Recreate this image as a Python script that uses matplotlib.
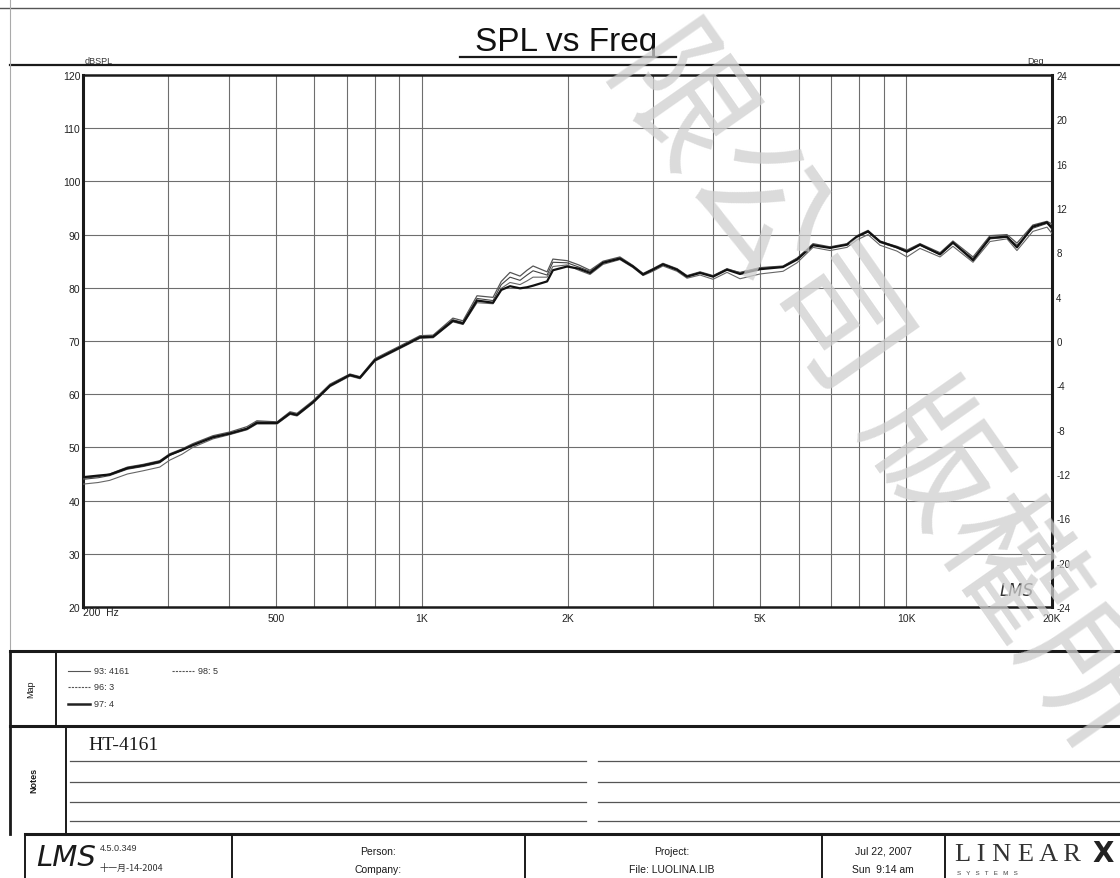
import matplotlib
matplotlib.use("Agg")
import matplotlib.pyplot as plt
from matplotlib.lines import Line2D

plt.rcParams['font.family'] = ['Liberation Sans', 'Noto Sans CJK TC', 'DejaVu Sans']

# ---------------- data ----------------
FREQ = [200, 215, 227, 247, 266, 288, 302, 320, 337, 371, 402, 436, 457, 503, 535, 553, 597, 647,
        711, 746, 801, 881, 940, 992, 1056, 1160, 1217, 1301, 1404, 1460, 1522, 1596, 1650, 1698,
        1815, 1866, 1996, 2110, 2226, 2368, 2566, 2730, 2864, 3000, 3148, 3366, 3530, 3755, 3994,
        4268, 4540, 4994, 5570, 5954, 6424, 6964, 7550, 7916, 8344, 8832, 9572, 10038, 10680,
        11748, 12490, 13740, 14894, 16148, 16930, 18260, 19530, 20000]

SPL_93 = [44.2, 44.5, 45.0, 46.3, 46.8, 47.5, 48.8, 49.7, 50.7, 52.2, 52.9, 53.9, 55.0, 54.8, 56.7,
          56.4, 58.8, 61.9, 63.8, 63.3, 66.7, 68.6, 69.9, 71.0, 71.1, 74.3, 73.8, 78.5, 78.2, 81.2,
          82.9, 82.2, 83.3, 84.1, 83.0, 85.4, 85.1, 84.3, 83.3, 85.0, 85.8, 84.2, 82.7, 83.6, 84.6,
          83.6, 82.3, 83.0, 82.3, 83.6, 82.8, 83.7, 84.0, 85.5, 88.3, 87.7, 88.3, 89.8, 90.8, 88.7,
          87.8, 87.1, 88.3, 86.6, 88.8, 85.8, 89.8, 90.0, 88.4, 91.8, 92.5, 92.0]

SPL_96 = [43.1, 43.4, 43.8, 45.0, 45.6, 46.3, 47.6, 48.7, 50.0, 51.6, 52.4, 53.3, 54.4, 54.4, 56.2,
          55.9, 58.3, 61.4, 63.4, 62.9, 66.2, 68.1, 69.4, 70.5, 70.6, 73.6, 73.1, 77.2, 77.0, 79.9,
          81.0, 80.6, 81.3, 82.0, 82.0, 84.0, 84.3, 83.3, 82.5, 84.4, 85.3, 83.8, 82.3, 83.1, 84.1,
          83.1, 81.8, 82.4, 81.6, 82.9, 81.7, 82.6, 83.1, 84.7, 87.6, 87.0, 87.6, 89.0, 90.0, 88.0,
          86.9, 85.8, 87.4, 85.8, 87.8, 84.8, 88.7, 89.2, 87.0, 90.6, 91.4, 90.2]

SPL_97 = [44.4, 44.7, 44.9, 46.1, 46.6, 47.3, 48.6, 49.5, 50.4, 51.9, 52.6, 53.5, 54.6, 54.6, 56.4,
          56.1, 58.5, 61.6, 63.6, 63.1, 66.4, 68.3, 69.6, 70.7, 70.8, 73.8, 73.3, 77.6, 77.2, 79.6,
          80.3, 79.9, 80.1, 80.4, 81.2, 83.3, 84.0, 83.6, 82.8, 84.7, 85.5, 84.0, 82.5, 83.4, 84.4,
          83.4, 82.1, 82.8, 82.1, 83.4, 82.6, 83.5, 83.9, 85.3, 88.0, 87.5, 88.1, 89.6, 90.6, 88.7,
          87.6, 86.8, 88.1, 86.3, 88.5, 85.2, 89.4, 89.6, 87.6, 91.5, 92.3, 91.3]

SPL_98 = [44.0, 44.3, 44.7, 45.9, 46.4, 47.1, 48.5, 49.4, 50.5, 52.0, 52.7, 53.6, 54.8, 54.7, 56.5,
          56.2, 58.6, 61.7, 63.7, 63.2, 66.5, 68.4, 69.7, 70.8, 70.9, 74.0, 73.5, 78.0, 77.6, 80.6,
          82.0, 81.4, 82.4, 83.2, 82.4, 84.8, 84.7, 83.9, 83.1, 84.8, 85.6, 84.1, 82.6, 83.5, 84.5,
          83.5, 82.2, 82.9, 82.2, 83.5, 82.9, 83.8, 84.1, 85.6, 88.1, 87.6, 88.2, 89.6, 90.5, 88.5,
          87.5, 86.7, 88.0, 86.2, 88.4, 85.5, 89.2, 89.5, 88.0, 91.2, 92.1, 91.0]

SERIES_NAMES = ["93: 4161", "96: 3", "97: 4", "98: 5"]

X_GRID = [300, 400, 500, 600, 700, 800, 900, 1000, 2000, 3000, 4000, 5000, 6000, 7000, 8000, 9000, 10000]
X_LABEL_POS = [500, 1000, 2000, 5000, 10000, 20000]
X_LABELS = ["500", "1K", "2K", "5K", "10K", "20K"]
Y_TICKS = [20, 30, 40, 50, 60, 70, 80, 90, 100, 110, 120]
DEG_TICKS = [-24, -20, -16, -12, -8, -4, 0, 4, 8, 12, 16, 20, 24]

# ---------------- figure ----------------
W, H = 1120, 879
fig = plt.figure(figsize=(W / 100, H / 100), dpi=100)
fig.patch.set_facecolor('white')

bg = fig.add_axes([0, 0, 1, 1], zorder=0)
bg.set_xlim(0, W)
bg.set_ylim(H, 0)
bg.axis('off')

ink = '#1a1a1a'

def hline(y, x0, x1, lw=1.2, c=ink, alpha=1.0):
    bg.add_line(Line2D([x0, x1], [y, y], lw=lw, color=c, alpha=alpha))

def vline(x, y0, y1, lw=1.2, c=ink, alpha=1.0):
    bg.add_line(Line2D([x, x], [y0, y1], lw=lw, color=c, alpha=alpha))

# header
hline(9, 0, W, lw=1.0, c='#555555')
hline(66, 10, W, lw=1.6)
vline(10, 0, 835, lw=0.8, c='#aaaaaa')
bg.text(566, 43, "SPL vs Freq", fontsize=24, ha='center', va='center', color='#111111')
hline(58, 460, 676, lw=1.6)

# map box
hline(652, 10, W, lw=2.2)
vline(10, 652, 835, lw=2.0)
vline(56, 652, 727, lw=1.4)
bg.text(31, 689, "Map", rotation=90, fontsize=6.5, ha='center', va='center', color=ink)
leg_styles = [dict(lw=0.8, ls='-', color='#555555'),
              dict(lw=0.8, ls=(0, (2, 1)), color='#555555'),
              dict(lw=1.8, ls='-', color='#222222'),
              dict(lw=0.8, ls=(0, (2, 1)), color='#555555')]
leg_pos = [(68, 672), (68, 688), (68, 705), (172, 672)]
for name, st, (lx, ly) in zip(SERIES_NAMES, leg_styles, leg_pos):
    bg.add_line(Line2D([lx, lx + 22], [ly, ly], **st))
    bg.text(lx + 26, ly, name, fontsize=6.5, ha='left', va='center', color='#333333')

# notes box
hline(727, 10, W, lw=2.2)
vline(66, 727, 835, lw=1.4)
bg.text(34, 780, "Notes", rotation=90, fontsize=6.5, ha='center', va='center', color=ink,
        fontweight='bold')
bg.text(88, 746, "HT-4161", fontsize=14, family='Liberation Serif', ha='left', va='center', color=ink)
for ny in [762, 783, 803, 822]:
    hline(ny, 70, 586, lw=0.9, c='#555555')
    hline(ny, 598, W, lw=0.9, c='#555555')

# footer
hline(835, 25, W, lw=2.2)
vline(25, 835, H, lw=1.4)
for vx in [232, 525, 822, 945]:
    vline(vx, 835, H, lw=1.4)
bg.text(36, 858, "LMS", fontsize=21, style='italic', family='DejaVu Sans', ha='left', va='center',
        color=ink, fontweight='light')
bg.text(100, 849, "4.5.0.349", fontsize=6.5, ha='left', va='center', color='#333333')
bg.text(100, 868, "十一月-14-2004", fontsize=6.5, ha='left', va='center', color='#333333',
        family=['Noto Sans CJK TC', 'DejaVu Sans'])
bg.text(378, 852, "Person:", fontsize=7.5, ha='center', va='center', color=ink)
bg.text(378, 870, "Company:", fontsize=7.5, ha='center', va='center', color=ink)
bg.text(672, 852, "Project:", fontsize=7.5, ha='center', va='center', color=ink)
bg.text(672, 870, "File: LUOLINA.LIB", fontsize=7.5, ha='center', va='center', color=ink)
bg.text(883, 852, "Jul 22, 2007", fontsize=7.5, ha='center', va='center', color=ink)
bg.text(883, 870, "Sun  9:14 am", fontsize=7.5, ha='center', va='center', color=ink)
bg.text(955, 855, "L I N E A R", fontsize=19, family='Liberation Serif', ha='left', va='center',
        color='#333333', fontweight='light')
bg.text(1103, 854, "X", fontsize=20, family='DejaVu Sans', ha='center', va='center',
        color='#222222', fontweight='bold')
bg.text(957, 874, "S   Y   S   T   E   M   S", fontsize=4.5, ha='left', va='center', color='#444444')

# ---------------- chart ----------------
L, R, T, B = 83, 1052, 76, 608
ax = fig.add_axes([L / W, 1 - B / H, (R - L) / W, (B - T) / H], zorder=2)
ax.set_facecolor('none')
ax.set_xscale('log')
ax.set_xlim(200, 20000)
ax.set_ylim(20, 120)

for xg in X_GRID:
    ax.axvline(xg, color='#6e6e6e', lw=0.8, zorder=1)
for yg in Y_TICKS[1:-1]:
    ax.axhline(yg, color='#6e6e6e', lw=0.8, zorder=1)

ax.plot(FREQ, SPL_96, color='#666666', lw=0.8, zorder=3)
ax.plot(FREQ, SPL_98, color='#444444', lw=0.8, zorder=3)
ax.plot(FREQ, SPL_93, color='#555555', lw=0.9, zorder=3)
ax.plot(FREQ, SPL_97, color='#111111', lw=1.6, zorder=4)

ax.set_yticks(Y_TICKS)
ax.set_yticklabels([str(v) for v in Y_TICKS])
ax.set_xticks(X_LABEL_POS)
ax.set_xticklabels(X_LABELS)
ax.xaxis.set_minor_locator(matplotlib.ticker.NullLocator())
ax.tick_params(axis='both', length=0, labelsize=7.5, colors='#222222')
ax.tick_params(axis='x', pad=4)
ax.tick_params(axis='y', pad=2)
ax.text(200, 20, "200  Hz", transform=ax.transData, fontsize=7.5, ha='left', va='top',
        color='#222222')

for side, lw in [('left', 2.2), ('right', 2.2), ('top', 1.8), ('bottom', 1.8)]:
    ax.spines[side].set_linewidth(lw)
    ax.spines[side].set_color(ink)

ax2 = ax.twinx()
ax2.set_ylim(-24, 24)
ax2.set_yticks(DEG_TICKS)
ax2.set_yticklabels([str(v) for v in DEG_TICKS])
ax2.tick_params(axis='y', length=0, labelsize=7, colors='#222222', pad=3)
for s in ax2.spines.values():
    s.set_visible(False)

bg.text(85, 62, "dBSPL", fontsize=6.5, ha='left', va='center', color='#333333')
bg.text(1044, 61, "Deg", fontsize=6.5, ha='right', va='center', color='#333333')
bg.text(1017, 591, "LMS", fontsize=12, style='italic', family='DejaVu Sans', ha='center',
        va='center', color='#333333', zorder=5)

# watermark
fig.text(0.787, 0.556, "限公司 版權所", fontsize=98, rotation=-55, rotation_mode='anchor',
         ha='center', va='center', color='#cfcfcf', alpha=0.75, zorder=10,
         family=['Noto Sans CJK TC', 'DejaVu Sans'])

fig.savefig("out.png", dpi=100, facecolor='white')
